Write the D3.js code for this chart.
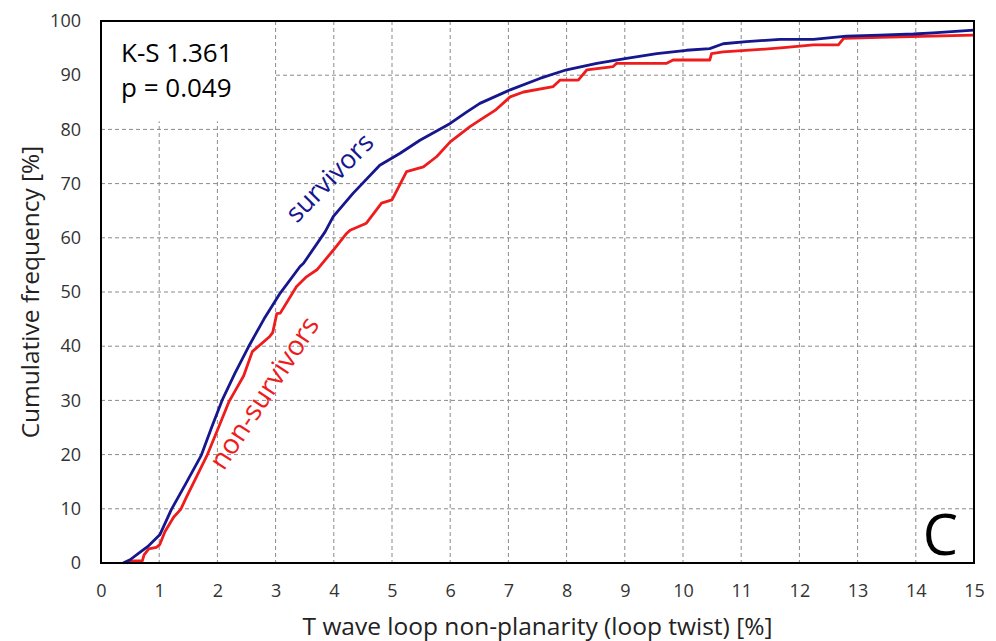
<!DOCTYPE html>
<html>
<head>
<meta charset="utf-8">
<script src="https://cdn.jsdelivr.net/npm/d3@7"></script>
<style>
  html, body { margin: 0; padding: 0; background: #fff; }
  svg { display: block; font-family: "Open Sans", "Noto Sans", sans-serif; }
</style>
</head>
<body>
<svg id="chart" width="996" height="641"></svg>
<script>
// Cumulative distribution of T wave loop twist (%)
const survivorsX = [0.38,0.5,0.65,0.8,1.01,1.21,1.45,1.72,1.9,2.08,2.3,2.53,2.8,3.08,3.42,3.48,3.85,3.99,4.33,4.79,5.14,5.48,6.0,6.28,6.51,7.03,7.54,8.0,8.52,9.03,9.55,10.06,10.46,10.69,11.09,11.67,12.24,12.81,13.38,13.96,14.3,15];
const survivorsY = [0,0.6,1.8,3.0,5.2,9.9,14.5,19.8,25,30,35,39.8,45,49.8,54.7,55.3,61.1,63.9,68.2,73.4,75.6,78.0,81.1,83.2,84.8,87.3,89.4,91.0,92.2,93.1,94.0,94.6,94.9,95.8,96.2,96.6,96.6,97.2,97.4,97.6,97.8,98.3];

const nonSurvivorsX = [0.44,0.55,0.71,0.74,0.82,0.95,1.01,1.1,1.25,1.37,1.47,1.6,1.82,2.0,2.2,2.28,2.45,2.6,2.90,2.95,3.02,3.08,3.36,3.53,3.71,3.99,4.22,4.28,4.56,4.82,5.0,5.25,5.54,5.77,6.0,6.34,6.51,6.77,7.03,7.26,7.77,7.89,8.2,8.35,8.8,8.86,9.72,9.83,10.46,10.49,10.69,11.27,11.73,12.24,12.67,12.76,13.38,15];
const nonSurvivorsY = [0,0.4,0.4,1.5,2.6,2.9,3.4,5.8,8.5,9.9,12.2,15,19.8,24.5,29.8,31.3,34.5,39,41.8,42.5,46,46.1,51.0,52.8,54.1,57.7,60.8,61.4,62.7,66.4,67.0,72.2,73.1,75.0,77.7,80.5,81.7,83.5,86.0,86.9,87.9,89.1,89.1,91.0,91.6,92.2,92.2,92.8,92.8,94.0,94.3,94.7,95.1,95.6,95.6,96.8,97.0,97.4];

const xTicks = d3.range(0, 16, 1);
const yTicks = d3.range(0, 101, 10);

const margin = { left: 101, top: 21, right: 22, bottom: 78 };
const W = 996, H = 641;
const iw = W - margin.left - margin.right;
const ih = H - margin.top - margin.bottom;

const svg = d3.select("#chart");
const g = svg.append("g").attr("transform", `translate(${margin.left},${margin.top})`);

const x = d3.scaleLinear().domain([0, 15]).range([0, iw]);
const y = d3.scaleLinear().domain([0, 100]).range([ih, 0]);

// dashed grid
g.append("g").selectAll("line").data(xTicks.slice(1, -1)).join("line")
  .attr("x1", d => x(d)).attr("x2", d => x(d)).attr("y1", 0).attr("y2", ih)
  .attr("stroke", "#8a8a8a").attr("stroke-width", 1).attr("stroke-dasharray", "4,3");
g.append("g").selectAll("line").data(yTicks.slice(1, -1)).join("line")
  .attr("x1", 0).attr("x2", iw).attr("y1", d => y(d)).attr("y2", d => y(d))
  .attr("stroke", "#8a8a8a").attr("stroke-width", 1).attr("stroke-dasharray", "4,3");

// white box behind the statistics text
g.append("rect").attr("x", 1).attr("y", 1).attr("width", x(2.98) - 1).attr("height", y(81.5) - 1)
  .attr("fill", "#fff");

// axes
const xAxis = g.append("g").attr("transform", `translate(0,${ih})`)
  .call(d3.axisBottom(x).tickValues(xTicks).tickSize(0).tickPadding(21).tickFormat(d3.format("d")));
const yAxis = g.append("g")
  .call(d3.axisLeft(y).tickValues(yTicks).tickSize(0).tickPadding(20).tickFormat(d3.format("d")));
[xAxis, yAxis].forEach(a => {
  a.select(".domain").remove();
  a.selectAll("text").attr("font-size", 18).attr("fill", "#333")
    .attr("font-family", "'Open Sans', sans-serif");
});

// curves
const line = d3.line().x(d => x(d[0])).y(d => y(d[1]));
const nsData = nonSurvivorsX.map((v, i) => [v, nonSurvivorsY[i]]);
const sData = survivorsX.map((v, i) => [v, survivorsY[i]]);

g.append("path").datum(nsData).attr("d", line)
  .attr("fill", "none").attr("stroke", "#ee1c1c").attr("stroke-width", 2.8).attr("stroke-linejoin", "round");
g.append("path").datum(sData).attr("d", line)
  .attr("fill", "none").attr("stroke", "#16168f").attr("stroke-width", 2.8).attr("stroke-linejoin", "round");

// frame
g.append("rect").attr("x", 0).attr("y", 0).attr("width", iw).attr("height", ih)
  .attr("fill", "none").attr("stroke", "#000").attr("stroke-width", 2);

// curve labels
g.append("text").attr("transform", `translate(${336 - margin.left},${184 - margin.top}) rotate(-45.6)`)
  .attr("text-anchor", "middle").attr("font-size", 26.5).attr("fill", "#16168f").text("survivors");
g.append("text").attr("transform", `translate(${272 - margin.left},${398 - margin.top}) rotate(-56.7)`)
  .attr("text-anchor", "middle").attr("font-size", 27.5).attr("fill", "#ee1c1c").text("non-survivors");

// statistics
g.append("text").attr("x", 121 - margin.left).attr("y", 62 - margin.top)
  .attr("font-size", 26).attr("fill", "#000").text("K-S 1.361");
g.append("text").attr("x", 121 - margin.left).attr("y", 97 - margin.top)
  .attr("font-size", 26).attr("fill", "#000").text("p = 0.049");

// panel letter
g.append("text").attr("x", iw - 16).attr("y", 555 - margin.top)
  .attr("text-anchor", "end").attr("font-size", 56).attr("fill", "#000").text("C");

// axis titles
svg.append("text").attr("x", margin.left + iw / 2).attr("y", 635)
  .attr("text-anchor", "middle").attr("font-size", 24.5).attr("fill", "#222")
  .text("T wave loop non-planarity (loop twist) [%]");
svg.append("text").attr("transform", `translate(39,${margin.top + ih / 2}) rotate(-90)`)
  .attr("text-anchor", "middle").attr("font-size", 24.5).attr("fill", "#222")
  .text("Cumulative frequency [%]");
</script>
</body>
</html>
